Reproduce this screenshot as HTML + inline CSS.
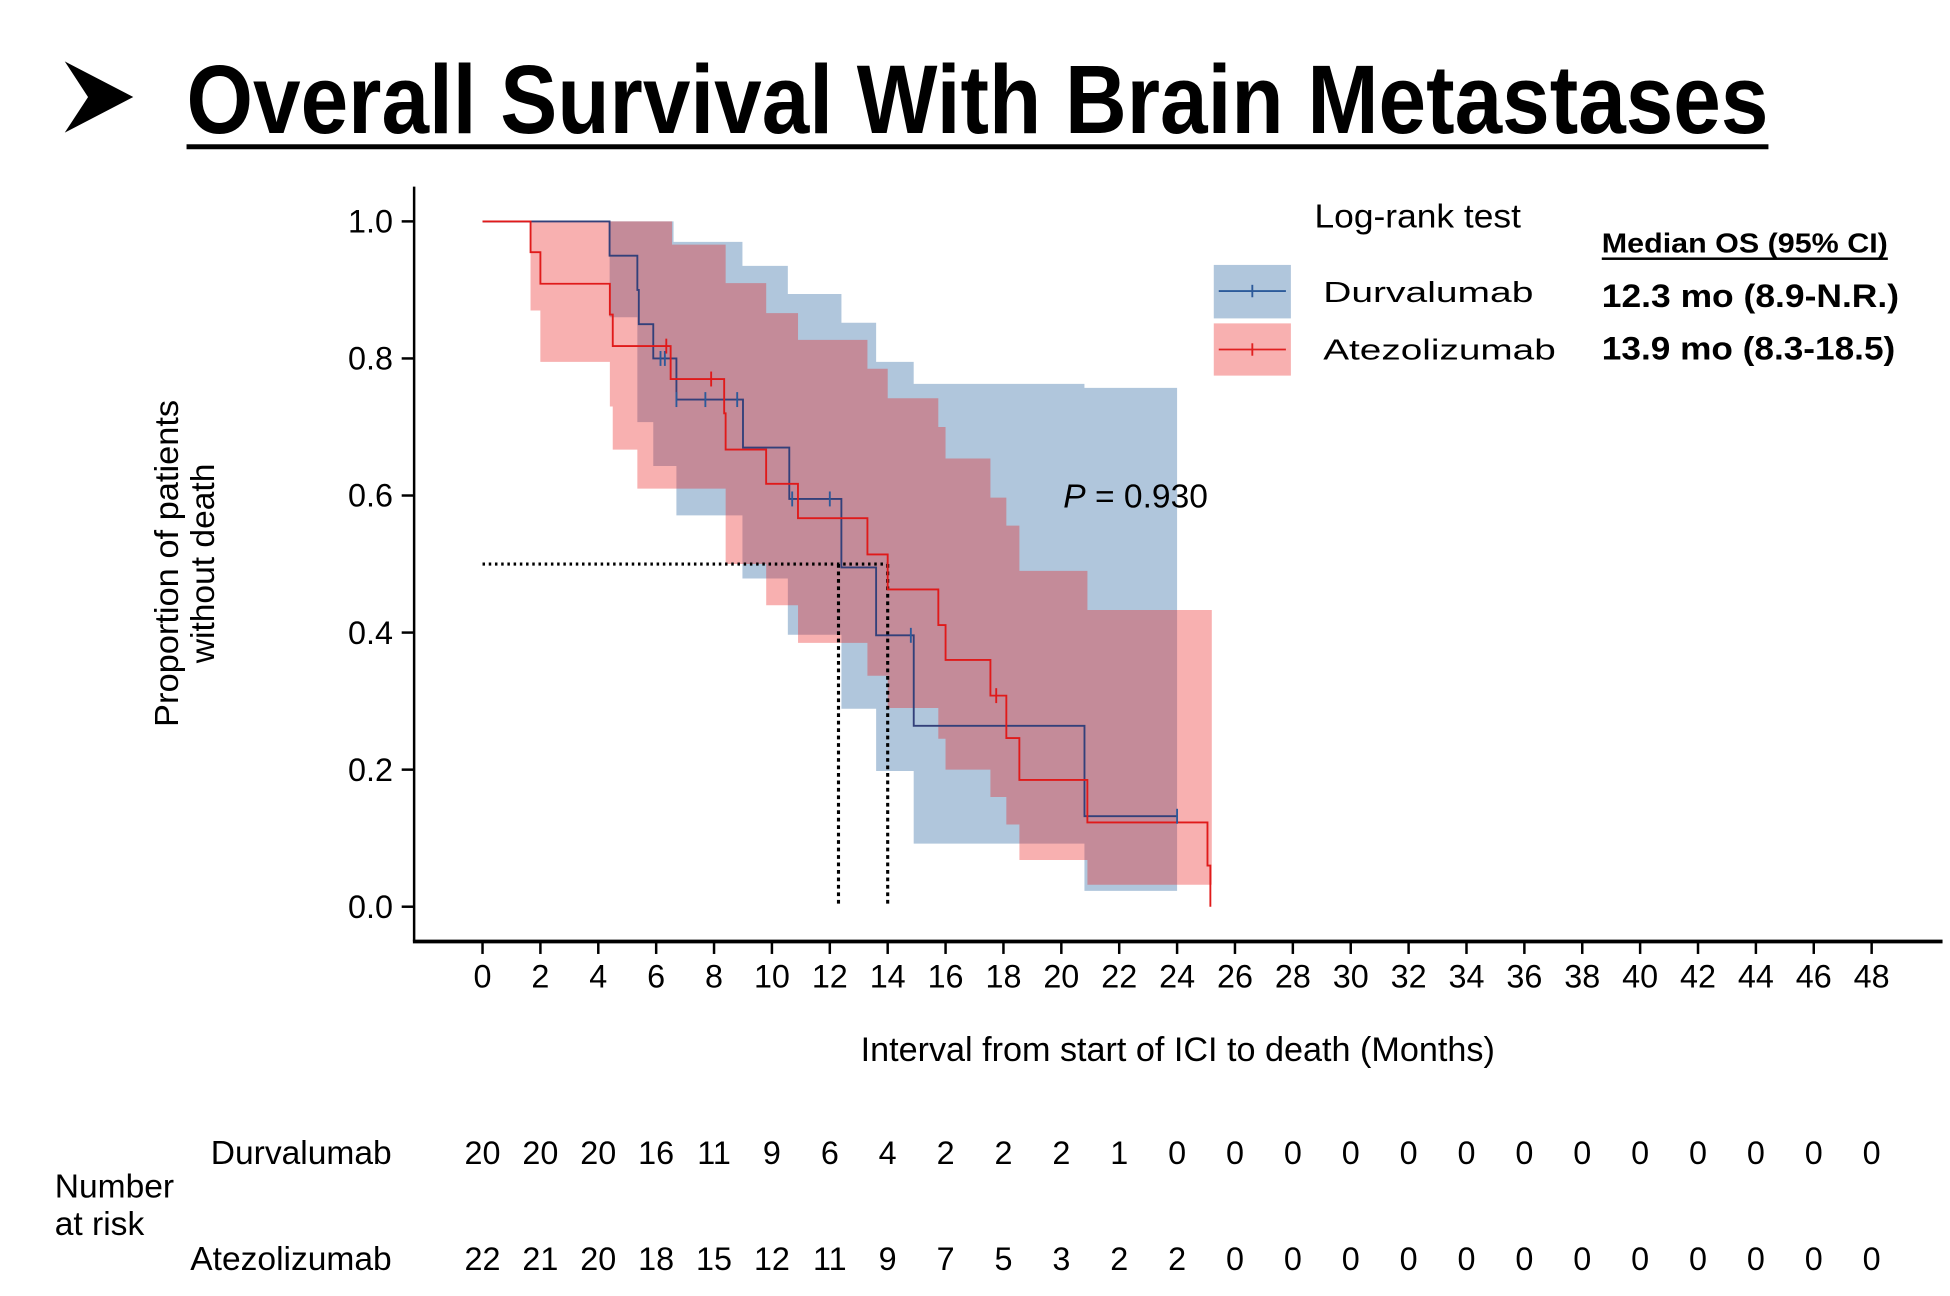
<!DOCTYPE html>
<html><head><meta charset="utf-8"><style>
html,body{margin:0;padding:0;background:#fff;}
svg{display:block;font-family:"Liberation Sans",Arial,sans-serif;}
</style></head><body>
<svg id="chart" width="1950" height="1296" viewBox="0 0 1568 1042" preserveAspectRatio="none" xmlns="http://www.w3.org/2000/svg">
<g>
  <path d="M55 52 L105 78 L55 104 L72 78 Z" fill="#000" stroke="#000" stroke-width="2"/>
  <text x="150" y="107" font-size="78" font-weight="bold" textLength="1272" lengthAdjust="spacingAndGlyphs">Overall Survival With Brain Metastases</text>
  <rect x="150" y="116" width="1272" height="4" fill="#000"/>
</g>
<g id="bands"></g>
<g id="lines"></g>
<g id="axes"></g>
<g>
  <text x="1057" y="183" font-size="27" textLength="166" lengthAdjust="spacingAndGlyphs">Log-rank test</text>
  <rect x="976" y="213" width="62" height="43" fill="#b0c6dc"/>
  <line x1="980" y1="234" x2="1034" y2="234" stroke="#2c5a9a" stroke-width="1.5"/>
  <line x1="1007" y1="229" x2="1007" y2="239" stroke="#2c5a9a" stroke-width="1.5"/>
  <rect x="976" y="260" width="62" height="42" fill="#f8b0b0"/>
  <line x1="980" y1="281" x2="1034" y2="281" stroke="#e02020" stroke-width="1.5"/>
  <line x1="1007" y1="276" x2="1007" y2="286" stroke="#e02020" stroke-width="1.5"/>
  <text x="1064" y="243" font-size="23" textLength="169" lengthAdjust="spacingAndGlyphs">Durvalumab</text>
  <text x="1064" y="289" font-size="23" textLength="187" lengthAdjust="spacingAndGlyphs">Atezolizumab</text>
  <text x="1288" y="203" font-size="22" font-weight="bold" textLength="230" lengthAdjust="spacingAndGlyphs">Median OS (95% CI)</text>
  <rect x="1288" y="207" width="230" height="2" fill="#000"/>
  <text x="1288" y="247" font-size="26" font-weight="bold" textLength="239" lengthAdjust="spacingAndGlyphs">12.3 mo (8.9-N.R.)</text>
  <text x="1288" y="289" font-size="26" font-weight="bold" textLength="236" lengthAdjust="spacingAndGlyphs">13.9 mo (8.3-18.5)</text>
</g>
<text x="855" y="408" font-size="27"><tspan font-style="italic">P</tspan> = 0.930</text>
<text transform="translate(143,453) rotate(-90)" text-anchor="middle" font-size="27" textLength="263" lengthAdjust="spacingAndGlyphs">Proportion of patients</text>
<text transform="translate(172,453) rotate(-90)" text-anchor="middle" font-size="27">without death</text>
<text x="947" y="853" text-anchor="middle" font-size="27.5" textLength="510" lengthAdjust="spacingAndGlyphs">Interval from start of ICI to death (Months)</text>
<g id="risk"></g>
</svg>
<script>
const xTicks=[0,2,4,6,8,10,12,14,16,18,20,22,24,26,28,30,32,34,36,38,40,42,44,46,48];
const yTicks=[0,0.2,0.4,0.6,0.8,1.0];
const durTimes=[0,4.39,5.35,5.4,5.9,6.7,9.0,10.6,12.4,13.6,14.9,20.8];
const durSurv=[1,0.95,0.90,0.85,0.80,0.74,0.67,0.595,0.495,0.396,0.264,0.132];
const durEnd=24;
const durCensor=[6.15,6.3,6.7,7.7,8.8,10.7,12.0,14.8,24.0];
const durCiTimes=[4.39,5.35,5.9,6.6,6.7,8.98,10.55,12.4,13.6,14.9,20.8];
const durUpper=[1,1,1,0.97,0.97,0.935,0.894,0.852,0.795,0.763,0.757];
const durLower=[0.86,0.707,0.643,0.643,0.571,0.479,0.397,0.289,0.198,0.092,0.023];
const ateTimes=[0,1.66,2.0,4.4,4.5,6.5,8.35,8.4,9.8,10.9,13.3,14.0,15.75,16.0,17.55,18.1,18.55,20.9,25.05,25.15];
const ateSurv=[1,0.955,0.909,0.864,0.818,0.77,0.72,0.667,0.617,0.567,0.514,0.463,0.411,0.36,0.308,0.246,0.185,0.123,0.06,0.0];
const ateEnd=25.15;
const ateCensor=[6.35,7.9,17.75];
const ateCiTimes=[1.66,2.0,4.4,4.5,5.35,6.55,8.4,9.8,10.9,13.3,14.0,15.75,16.0,17.55,18.1,18.55,20.9];
const ateUpper=[1,1,1,1,1,0.966,0.91,0.866,0.827,0.785,0.742,0.7,0.654,0.597,0.556,0.49,0.433];
const ateLower=[0.87,0.795,0.73,0.667,0.61,0.61,0.5,0.44,0.385,0.337,0.29,0.245,0.2,0.16,0.12,0.068,0.032];
const ateCiEnd=25.2;
const medianTimes=[12.3,14.0];
const riskDur=[20,20,20,16,11,9,6,4,2,2,2,1,0,0,0,0,0,0,0,0,0,0,0,0,0];
const riskAte=[22,21,20,18,15,12,11,9,7,5,3,2,2,0,0,0,0,0,0,0,0,0,0,0,0];

const NS='http://www.w3.org/2000/svg';
const X=t=>388+t*(1505-388)/48;
const Y=v=>729-v*(729-178);
function mk(tag,attrs,parent){const e=document.createElementNS(NS,tag);for(const k in attrs)e.setAttribute(k,attrs[k]);parent.appendChild(e);return e;}
const bands=document.getElementById('bands'),lines=document.getElementById('lines'),axes=document.getElementById('axes'),risk=document.getElementById('risk');

function bandPath(times,up,lo,end){
  let pts=[],low=[];
  for(let i=0;i<times.length;i++){const t1=i+1<times.length?times[i+1]:end;pts.push([X(times[i]),Y(up[i])],[X(t1),Y(up[i])]);}
  for(let i=0;i<times.length;i++){const t1=i+1<times.length?times[i+1]:end;low.push([X(times[i]),Y(lo[i])],[X(t1),Y(lo[i])]);}
  low.reverse();
  return 'M'+pts.concat(low).map(p=>p[0].toFixed(1)+' '+p[1].toFixed(1)).join(' L')+' Z';
}
function stepPath(times,s,end){
  let d='M'+X(times[0])+' '+Y(s[0]);
  for(let i=0;i<times.length;i++){const t1=i+1<times.length?times[i+1]:end;d+=' L'+X(times[i])+' '+Y(s[i])+' L'+X(t1)+' '+Y(s[i]);}
  return d;
}
function stepVal(times,s,t){let v=s[0];for(let i=0;i<times.length;i++)if(times[i]<=t)v=s[i];return v;}

let b1=mk('path',{d:bandPath(durCiTimes,durUpper,durLower,durEnd),fill:'#b0c6dc'},bands);


let b2=mk('path',{d:bandPath(ateCiTimes,ateUpper,ateLower,ateCiEnd),fill:'rgb(234,29,29)','fill-opacity':0.35},bands);



let mh=mk('line',{x1:X(0),y1:Y(0.5),x2:X(medianTimes[1]),y2:Y(0.5),stroke:'#000','stroke-width':2.5,'stroke-dasharray':'2 3'},lines);


medianTimes.forEach(m=>{
  let v=mk('line',{x1:X(m),y1:Y(0.5),x2:X(m),y2:Y(0),stroke:'#000','stroke-width':2.5,'stroke-dasharray':'3 3'},lines);
  
  
});

let l1=mk('path',{d:stepPath(durTimes,durSurv,durEnd),fill:'none',stroke:'#33407a','stroke-width':1.5},lines);


let l2=mk('path',{d:stepPath(ateTimes,ateSurv,ateEnd),fill:'none',stroke:'#e01a1a','stroke-width':1.5},lines);


durCensor.forEach(t=>{const y=Y(stepVal(durTimes,durSurv,t));
  let c=mk('line',{x1:X(t),y1:y-6,x2:X(t),y2:y+6,stroke:'#2c5a9a','stroke-width':1.5},lines);
  
  });
ateCensor.forEach(t=>{const y=Y(stepVal(ateTimes,ateSurv,t));
  let c=mk('line',{x1:X(t),y1:y-6,x2:X(t),y2:y+6,stroke:'#e01a1a','stroke-width':1.5},lines);
  
  });

let ya=mk('line',{x1:333,y1:150,x2:333,y2:757,stroke:'#000','stroke-width':2},axes);


let xa=mk('line',{x1:332,y1:757,x2:1562,y2:757,stroke:'#000','stroke-width':3},axes);


yTicks.forEach(v=>{
  mk('line',{x1:323,y1:Y(v),x2:333,y2:Y(v),stroke:'#000','stroke-width':2},axes);
  let t=mk('text',{x:316,y:Y(v)+9,'text-anchor':'end','font-size':26},axes);
  t.textContent=v.toFixed(1);
  
  
});
xTicks.forEach((v,i)=>{
  mk('line',{x1:X(v),y1:757,x2:X(v),y2:767,stroke:'#000','stroke-width':2},axes);
  let t=mk('text',{x:X(v),y:794,'text-anchor':'middle','font-size':26},axes);
  t.textContent=v;
  
  
  let r1=mk('text',{x:X(v),y:936,'text-anchor':'middle','font-size':26},risk);
  r1.textContent=riskDur[i];
  
  
  let r2=mk('text',{x:X(v),y:1021,'text-anchor':'middle','font-size':26},risk);
  r2.textContent=riskAte[i];
  
  
});
[['Durvalumab',936,'risk-durvalumab-label'],['Atezolizumab',1021,'risk-atezolizumab-label']].forEach(a=>{
  let t=mk('text',{x:315,y:a[1],'text-anchor':'end','font-size':27},risk);
  t.textContent=a[0];
  
  
});
let n1=mk('text',{x:44,y:963,'font-size':27},risk);n1.textContent='Number';


let n2=mk('text',{x:44,y:993,'font-size':27},risk);n2.textContent='at risk';


</script>
</body></html>
